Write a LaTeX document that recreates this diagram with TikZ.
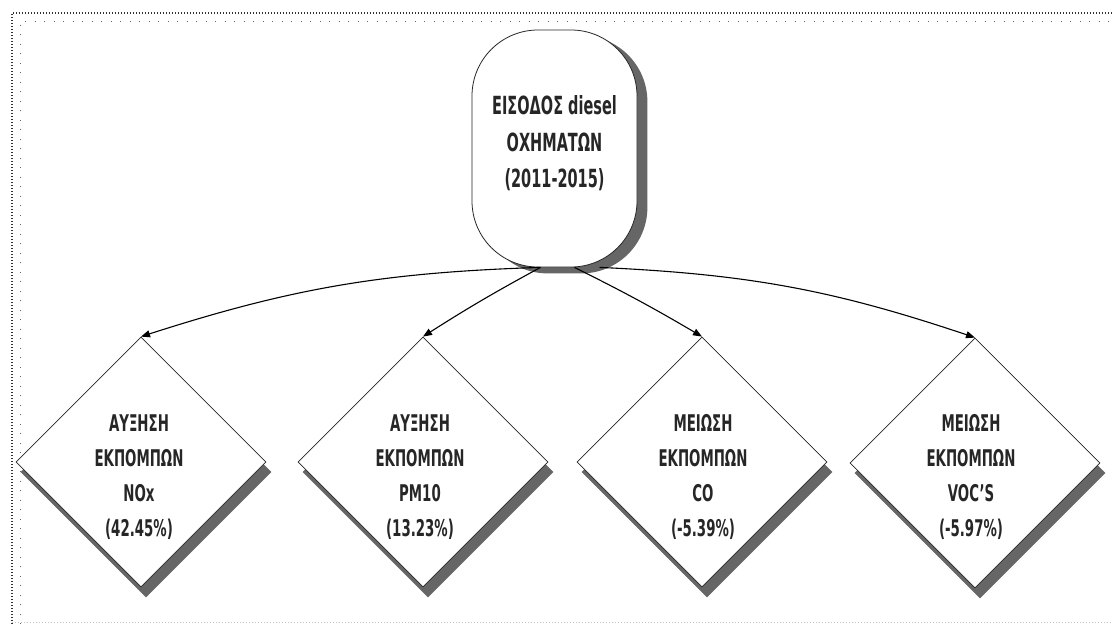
\documentclass[tikz,border=0pt]{standalone}
\usepackage{fontspec}
\setmainfont{DejaVu Sans}[FakeStretch=0.58]
\usetikzlibrary{shapes.geometric,arrows.meta}
\pgfdeclarelayer{bg}
\pgfsetlayers{bg,main}
\begin{document}
\begin{tikzpicture}[x=1pt,y=-1pt,
  dia/.style={diamond,minimum width=250pt,minimum height=250pt,inner sep=0pt,draw=black!85,line width=0.8pt,fill=white},
  oval/.style={rectangle,rounded corners=66pt,minimum width=165pt,minimum height=237pt,inner sep=0pt,draw=black!85,line width=0.8pt,fill=white},
  shad/.style={fill=black!60,draw=none},
  dtxt/.style={align=center,inner sep=0pt,font=\bfseries\fontsize{23}{35}\selectfont,text=black!85},
  otxt/.style={align=center,inner sep=0pt,font=\bfseries\fontsize{25}{36.5}\selectfont,text=black!85},
  conn/.style={line width=1.1pt,draw=black,-{Triangle[length=9pt,width=7pt]}}
]
\useasboundingbox (0,0) rectangle (1112,624);
% top node
\node[oval] (ov) at (554.5,148.5) {};
\node[otxt] (ovt) at (554.5,143.5) {ΕΙΣΟΔΟΣ diesel\\ΟΧΗΜΑΤΩΝ\\(2011-2015)};
% diamonds
\node[dia] (d1) at (141,462) {};
\node[dia] (d2) at (423,462) {};
\node[dia] (d3) at (702,462) {};
\node[dia] (d4) at (975,463) {};
\node[dtxt] (t1) at (139,477) {ΑΥΞΗΣΗ\\ΕΚΠΟΜΠΩΝ\\NOx\\(42.45\%)};
\node[dtxt] (t2) at (420,477) {ΑΥΞΗΣΗ\\ΕΚΠΟΜΠΩΝ\\PM10\\(13.23\%)};
\node[dtxt] (t3) at (703,477) {ΜΕΙΩΣΗ\\ΕΚΠΟΜΠΩΝ\\CO\\(-5.39\%)};
\node[dtxt] (t4) at (971,477) {ΜΕΙΩΣΗ\\ΕΚΠΟΜΠΩΝ\\VOC'S\\(-5.97\%)};
% shadows and frame on background layer
\begin{pgfonlayer}{bg}
\fill[white] (0,0) rectangle (1112,624);
\draw[black!80,line width=1.3pt,dash pattern=on 1.3pt off 1.7pt] (12,624) -- (12,13) -- (1112,13);
\draw[black!60,line width=1pt,dash pattern=on 1pt off 8.5pt] (20,624) -- (20,21) -- (1112,21);
\draw[black!25,line width=0.8pt,dash pattern=on 1pt off 2pt] (12,622) -- (1112,622);
\foreach \d in {d1,d2,d3,d4}{
  \fill[shad] ([shift={(5,10)}]\d.north) -- ([shift={(5,10)}]\d.east) -- ([shift={(5,10)}]\d.south) -- ([shift={(5,10)}]\d.west) -- cycle;
}
\fill[shad,rounded corners=66pt] ([shift={(10,6)}]ov.north west) rectangle ([shift={(10,6)}]ov.south east);
\end{pgfonlayer}
% connectors
\draw[conn] ([xshift=-14pt]ov.south) to[bend right=8] (d1.north);
\draw[conn] ([xshift=-14pt]ov.south) to[bend right=2] (d2.north);
\draw[conn] ([xshift=20pt]ov.south) to[bend left=2] (d3.north);
\draw[conn] ([xshift=45pt]ov.south) to[bend left=8] (d4.north);
\end{tikzpicture}
\end{document}
